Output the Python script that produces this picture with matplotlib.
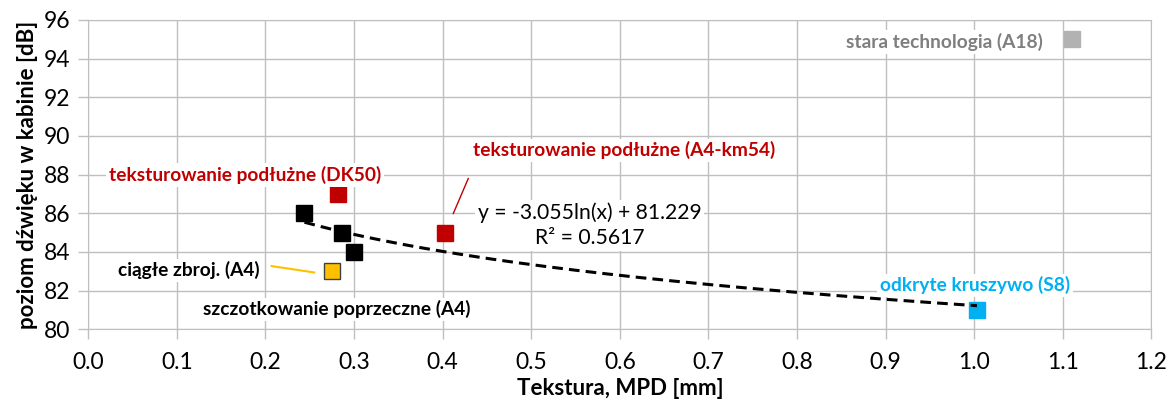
import numpy as np
import matplotlib
matplotlib.use("Agg")
import matplotlib.pyplot as plt

# Measured points (MPD [mm], sound level [dB])
black_x = [0.244, 0.286, 0.300]
black_y = [86, 85, 84]
dk50_x, dk50_y = [0.282], [87]
a4km54_x, a4km54_y = [0.403], [85]
zbroj_x, zbroj_y = [0.275], [83]
s8_x, s8_y = [1.003], [81]
a18_x, a18_y = [1.110], [95]

# Trendline y = a*ln(x) + b (as given on chart)
trend_a, trend_b = -3.055, 81.229
trend_range = (0.244, 1.003)

plt.rcParams["font.family"] = ["Lato", "DejaVu Sans"]

fig = plt.figure(figsize=(11.72, 4.03), dpi=100)
ax = fig.add_axes([0.0753, 0.1829, 0.9072, 0.7675])

grid_c = "#BFBFBF"
ax.set_xlim(0, 1.2)
ax.set_ylim(80, 96)
ax.set_xticks(np.arange(0, 1.21, 0.1))
ax.set_xticklabels([f"{v:.1f}" for v in np.arange(0, 1.21, 0.1)])
ax.set_yticks(range(80, 97, 2))
ax.grid(True, color=grid_c, linewidth=1.0, zorder=0)
for s in ax.spines.values():
    s.set_color(grid_c)
ax.tick_params(axis="both", colors=grid_c, length=7, width=1.0, labelsize=16.5, labelcolor="black")
ax.tick_params(axis="x", pad=9)
ax.tick_params(axis="y", pad=6)

ax.set_xlabel("Tekstura, MPD [mm]", fontsize=16, fontweight="bold", labelpad=4)
ax.set_ylabel("poziom dźwięku w kabinie [dB]", fontsize=16, fontweight="bold", labelpad=4)

# trendline
tx = np.linspace(trend_range[0], trend_range[1], 200)
ax.plot(tx, trend_a * np.log(tx) + trend_b, color="black", linestyle=(0, (3.5, 2)),
        linewidth=2.2, zorder=3)

ms = 12
ax.plot(black_x, black_y, "s", color="black", markersize=ms, zorder=4)
ax.plot(dk50_x, dk50_y, "s", color="#C00000", markersize=11, zorder=4)
ax.plot(a4km54_x, a4km54_y, "s", color="#C00000", markersize=11, zorder=4)
ax.plot(zbroj_x, zbroj_y, "s", color="#FFC000", markeredgecolor="#404040",
        markeredgewidth=1, markersize=11, zorder=4)
ax.plot(s8_x, s8_y, "s", color="#00B0F0", markersize=11, zorder=2)
ax.plot(a18_x, a18_y, "s", color="#B2B2B2", markersize=11, zorder=4)

# leader lines
ax.plot([0.207, 0.255], [83.27, 82.94], color="#FFC000", linewidth=1.5, zorder=3)
ax.plot([0.4289, 0.412], [87.80, 85.99], color="#C00000", linewidth=1.0, zorder=3)

box = dict(facecolor="white", edgecolor="none", pad=2)
lbl = dict(fontsize=13.8, fontweight="bold", ha="center", va="center", bbox=box, zorder=5)
ax.text(1.0772, 94.86, "stara technologia (A18)", color="#7F7F7F",
        **{**lbl, "ha": "right"})
ax.text(0.177, 87.97, "teksturowanie podłużne (DK50)", color="#C00000", **lbl)
ax.text(0.6047, 89.26, "teksturowanie podłużne (A4-km54)", color="#C00000", **lbl)
ax.text(0.1138, 83.05, "ciągłe zbroj. (A4)", color="black", **lbl)
ax.text(0.281, 81.03, "szczotkowanie poprzeczne (A4)", color="black", **lbl)
ax.text(1.0007, 82.27, "odkryte kruszywo (S8)", color="#00B0F0", **lbl)

ax.text(0.566, 85.38, "y = -3.055ln(x) + 81.229\nR² = 0.5617", fontsize=15.2,
        ha="center", va="center", linespacing=1.3, bbox=box, zorder=5)

fig.savefig("out.png", dpi=100)
